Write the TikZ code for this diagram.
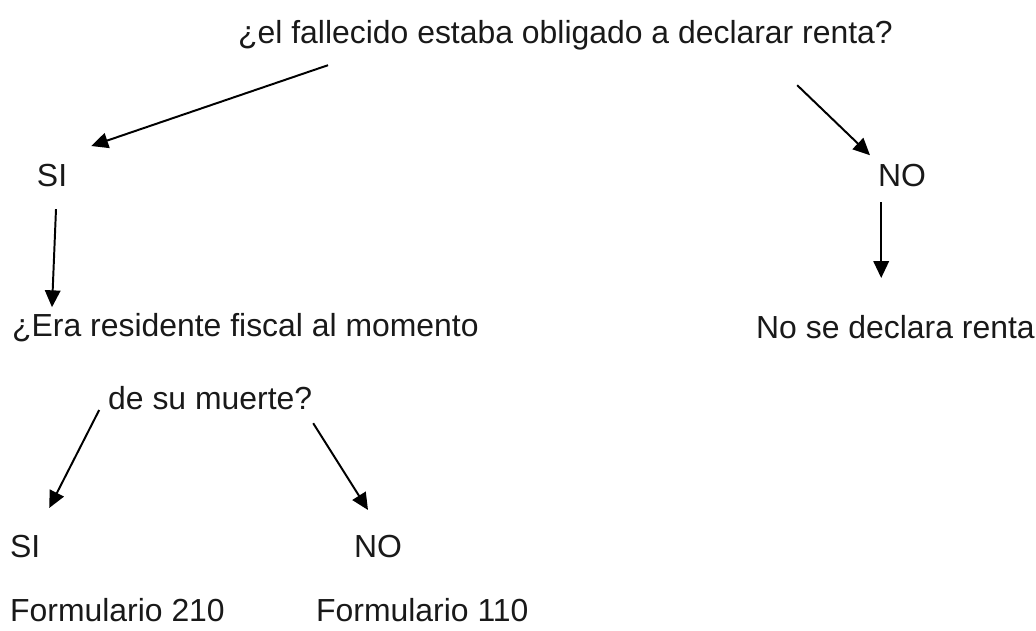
\documentclass[tikz,border=0pt]{standalone}
\usepackage{fontspec}
\setmainfont{Liberation Sans}
\usetikzlibrary{arrows.meta}

\begin{document}
\begin{tikzpicture}[->,>={Triangle[length=12pt,width=11pt]},line width=1.4pt]
  \tikzstyle{every node}=[inner sep=0pt,anchor=west,text=black!90,font=\fontsize{22.7}{26}\selectfont]
  \useasboundingbox (0,0) rectangle (25.9,-15.75);

  \node (pregunta)  at (5.93,-0.875) {¿el fallecido estaba obligado a declarar renta?};
  \node (si)        at (0.9,-4.4)    {SI};
  \node (no)        at (21.93,-4.4)  {NO};
  \node (residente) at (0.28,-8.18)  {¿Era residente fiscal al momento};
  \node (nodecl)    at (18.88,-8.18) {No se declara renta};
  \node (muerte)    at (2.68,-9.95)  {de su muerte?};
  \node (siR)       at (0.23,-13.65) {SI};
  \node (noR)       at (8.83,-13.65) {NO};
  \node (f210)      at (0.23,-15.25) {Formulario 210};
  \node (f110)      at (7.88,-15.25) {Formulario 110};

  \coordinate (p1) at (8.2,-1.63);   \coordinate (s1) at (2.28,-3.65);
  \coordinate (p2) at (19.93,-2.13); \coordinate (n1) at (21.75,-3.88);
  \coordinate (s2) at (1.4,-5.23);   \coordinate (r1) at (1.3,-7.68);
  \coordinate (n2) at (22.03,-5.05); \coordinate (d1) at (22.03,-6.95);
  \coordinate (m1) at (2.48,-10.25); \coordinate (sr) at (1.23,-12.7);
  \coordinate (m2) at (7.83,-10.58); \coordinate (nr) at (9.2,-12.75);

  \draw (p1) -- (s1);
  \draw (p2) -- (n1);
  \draw (s2) -- (r1);
  \draw (n2) -- (d1);
  \draw (m1) -- (sr);
  \draw (m2) -- (nr);
\end{tikzpicture}
\end{document}
